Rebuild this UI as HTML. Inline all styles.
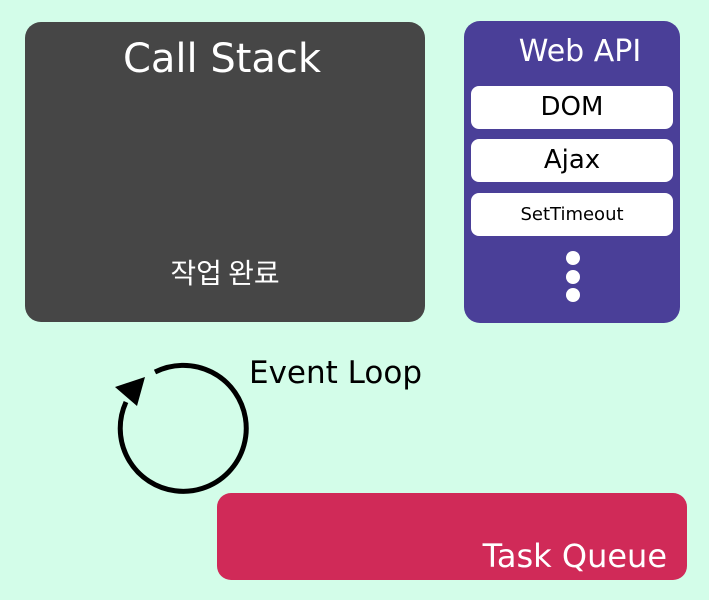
<!DOCTYPE html>
<html><head><meta charset="utf-8"><style>
body{margin:0;width:709px;height:600px;background:#d3fde9;position:relative;overflow:hidden;font-family:"Liberation Sans","DejaVu Sans","Noto Sans CJK KR",sans-serif}
.a{position:absolute}
.cs{left:25px;top:22px;width:400px;height:300px;background:#464646;border-radius:16px}
.wa{left:464px;top:21px;width:216px;height:302px;background:#4a3f98;border-radius:16px}
.item{position:absolute;left:7px;width:202px;height:43px;background:#fff;border-radius:8px;text-align:center;line-height:43px;color:#000}
.dot{position:absolute;left:102px;width:14px;height:14px;border-radius:50%;background:#fff}
.tq{left:217px;top:493px;width:470px;height:87px;background:#d02a58;border-radius:14px}
</style></head><body>
<div class="a cs"><div class="a" style="left:0;width:394px;top:14px;text-align:center;color:#fff;font-size:40px;font-family:'DejaVu Sans',sans-serif">Call Stack</div>
<div class="a" style="left:0;width:400px;top:230px;text-align:center;color:#fff;font-size:28px;font-family:'Noto Sans CJK KR',sans-serif">작업 완료</div></div>
<div class="a wa"><div class="a" style="left:0;width:232px;top:13px;text-align:center;color:#fff;font-size:30px;font-family:'DejaVu Sans',sans-serif">Web API</div>
<div class="item" style="top:65px;font-size:26px;font-family:'DejaVu Sans',sans-serif">DOM</div>
<div class="item" style="top:118px;font-size:26px;font-family:'DejaVu Sans',sans-serif">Ajax</div>
<div class="item" style="top:172px;font-size:18px;font-family:'DejaVu Sans',sans-serif">SetTimeout</div>
<div class="dot" style="top:230px"></div><div class="dot" style="top:249px"></div><div class="dot" style="top:267px"></div></div>
<div class="a" style="left:249px;top:355px;font-size:31px;font-family:'DejaVu Sans',sans-serif">Event Loop</div>
<svg class="a" style="left:0;top:0" width="709" height="600">
<path d="M155 372 A63 63 0 1 1 126 402" fill="none" stroke="#000" stroke-width="5"/>
<polygon points="145,377 115,387 137,406" fill="#000"/>
</svg>
<div class="a tq"><div class="a" style="right:20px;top:44px;color:#fff;font-size:32px;font-family:'DejaVu Sans',sans-serif">Task Queue</div></div>
</body></html>
